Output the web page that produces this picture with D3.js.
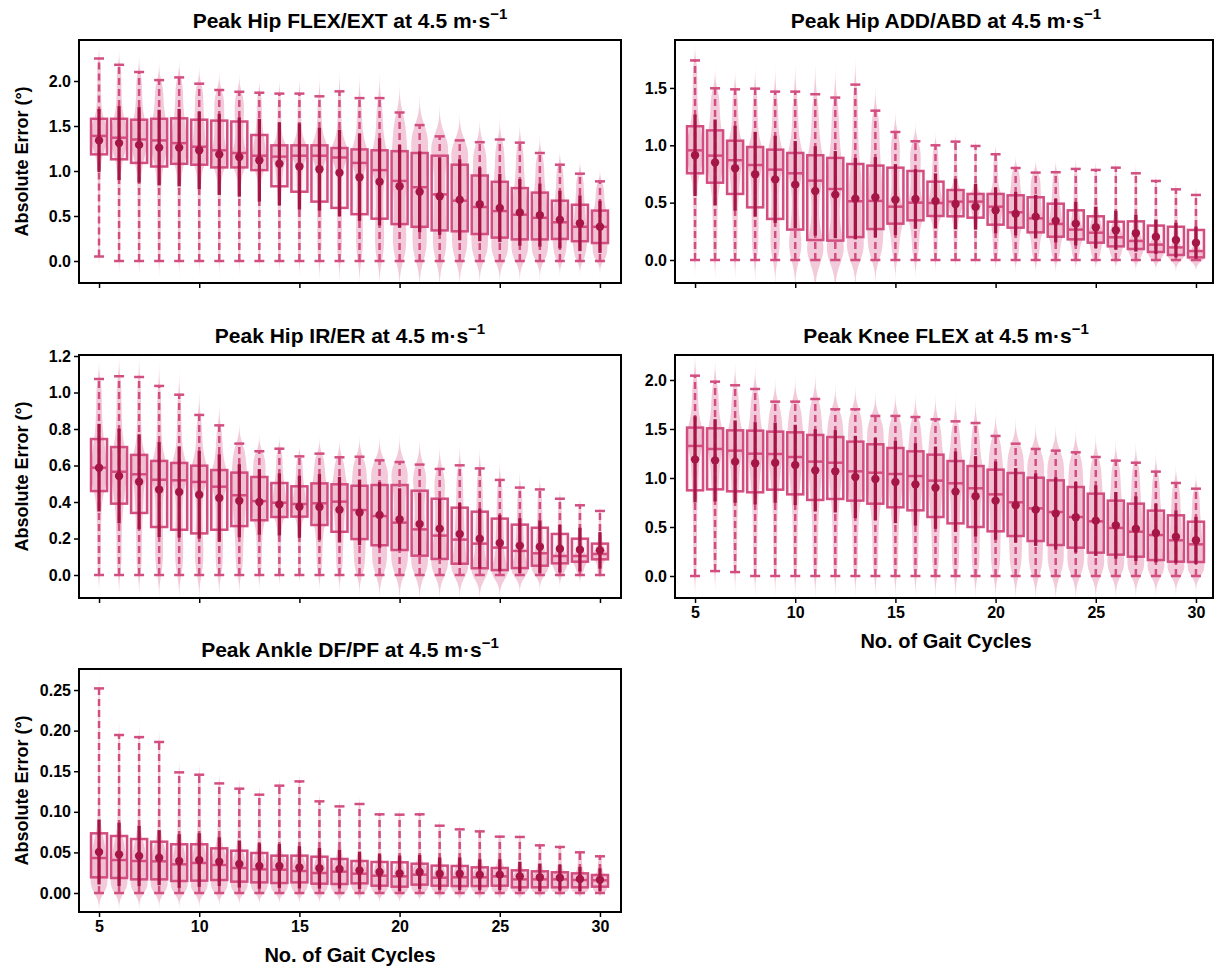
<!DOCTYPE html>
<html><head><meta charset="utf-8">
<script src="https://cdn.jsdelivr.net/npm/d3@7"></script>
<style>
body{margin:0;background:#fff}
svg text{font-family:"Liberation Sans",Arial,Helvetica,sans-serif;font-weight:bold;fill:#000}
</style>
</head><body>
<svg id="chart" width="1215" height="971"></svg>
<script>
// ---------------- data ----------------
const cycles = [5,6,7,8,9,10,11,12,13,14,15,16,17,18,19,20,21,22,23,24,25,26,27,28,29,30];
const xTicks = [5,10,15,20,25,30];

// Peak Hip FLEX/EXT
const flex_max  = [2.25,2.18,2.10,2.01,2.04,1.97,1.90,1.88,1.87,1.86,1.86,1.83,1.885,1.81,1.81,1.65,1.51,1.385,1.34,1.32,1.35,1.315,1.20,1.07,0.97,0.885];
const flex_q3   = [1.58,1.58,1.57,1.58,1.585,1.57,1.56,1.55,1.40,1.285,1.285,1.285,1.255,1.24,1.23,1.22,1.20,1.17,1.07,0.95,0.88,0.81,0.76,0.67,0.625,0.56];
const flex_med  = [1.39,1.37,1.35,1.34,1.31,1.27,1.23,1.20,1.17,1.16,1.17,1.17,1.15,1.09,1.01,0.89,0.82,0.74,0.67,0.60,0.555,0.515,0.48,0.43,0.38,0.38];
const flex_q1   = [1.185,1.13,1.09,1.05,1.08,1.07,1.04,1.04,1.01,0.83,0.77,0.66,0.59,0.52,0.47,0.41,0.38,0.34,0.33,0.30,0.26,0.24,0.24,0.245,0.22,0.20];
const flex_min  = [0.05,0,0,0,0,0,0,0,0,0,0,0,0,0,0,0,0,0,0,0,0,0,0,0,0,0];
const flex_mean = [1.34,1.31,1.29,1.26,1.26,1.23,1.185,1.155,1.12,1.08,1.05,1.02,0.98,0.93,0.88,0.83,0.77,0.72,0.68,0.63,0.59,0.54,0.51,0.46,0.42,0.38];
const flex_sd   = [0.35,0.41,0.42,0.42,0.43,0.43,0.45,0.44,0.46,0.46,0.48,0.46,0.48,0.485,0.485,0.46,0.45,0.43,0.45,0.41,0.38,0.37,0.35,0.32,0.31,0.29];

// Peak Hip ADD/ABD
const add_max  = [1.74,1.497,1.488,1.494,1.468,1.468,1.445,1.416,1.529,1.302,1.116,1.035,1.0,1.032,0.994,0.922,0.802,0.762,0.765,0.794,0.785,0.805,0.756,0.689,0.616,0.567];
const add_q3   = [1.166,1.13,1.04,0.985,0.962,0.933,0.913,0.89,0.837,0.823,0.805,0.776,0.683,0.61,0.576,0.576,0.564,0.547,0.491,0.433,0.381,0.334,0.337,0.3,0.29,0.262];
const add_med  = [0.956,0.91,0.87,0.828,0.788,0.756,0.692,0.619,0.512,0.515,0.465,0.5,0.497,0.509,0.509,0.465,0.416,0.363,0.314,0.265,0.238,0.198,0.166,0.134,0.11,0.078];
const add_q1   = [0.756,0.674,0.576,0.459,0.358,0.265,0.174,0.169,0.2,0.27,0.317,0.346,0.384,0.381,0.369,0.308,0.282,0.241,0.203,0.18,0.151,0.119,0.096,0.07,0.044,0.023];
const add_min  = [0,0,0,0,0,0,0,0,0,0,0,0,0,0,0,0,0,0,0,0,0,0,0,0,0,0];
const add_mean = [0.913,0.85,0.80,0.747,0.703,0.657,0.602,0.57,0.535,0.547,0.526,0.532,0.515,0.488,0.465,0.433,0.404,0.378,0.343,0.317,0.285,0.259,0.233,0.203,0.174,0.151];
const add_sd   = [0.355,0.375,0.37,0.37,0.38,0.38,0.39,0.38,0.355,0.35,0.31,0.26,0.24,0.22,0.2,0.2,0.19,0.19,0.19,0.19,0.18,0.17,0.16,0.15,0.15,0.14];

// Peak Hip IR/ER
const ir_max  = [1.074,1.089,1.085,1.036,0.988,0.877,0.82,0.72,0.678,0.692,0.65,0.665,0.645,0.648,0.628,0.619,0.605,0.581,0.601,0.584,0.521,0.479,0.469,0.418,0.382,0.351];
const ir_q3   = [0.745,0.701,0.658,0.625,0.614,0.599,0.575,0.561,0.537,0.504,0.486,0.502,0.497,0.489,0.493,0.493,0.462,0.418,0.369,0.347,0.309,0.276,0.259,0.225,0.199,0.172];
const ir_med  = [0.588,0.566,0.552,0.522,0.519,0.51,0.484,0.437,0.405,0.396,0.389,0.393,0.402,0.356,0.323,0.287,0.25,0.216,0.194,0.172,0.15,0.132,0.119,0.104,0.104,0.115];
const ir_q1   = [0.46,0.391,0.34,0.263,0.248,0.228,0.248,0.268,0.3,0.318,0.32,0.274,0.237,0.197,0.163,0.137,0.106,0.088,0.062,0.037,0.027,0.038,0.051,0.064,0.073,0.086];
const ir_min  = [0,0,0,0,0,0,0,0,0,0,0,0,0,0,0,0,0,0,0,0,0,0,0,0,0,0];
const ir_mean = [0.588,0.542,0.511,0.468,0.455,0.44,0.422,0.407,0.4,0.387,0.374,0.373,0.358,0.343,0.329,0.305,0.279,0.254,0.225,0.199,0.175,0.161,0.155,0.144,0.139,0.135];
const ir_sd   = [0.24,0.26,0.26,0.26,0.25,0.24,0.24,0.2,0.18,0.17,0.17,0.18,0.18,0.18,0.18,0.17,0.17,0.165,0.17,0.165,0.155,0.15,0.145,0.13,0.12,0.1];

// Peak Knee FLEX
const knee_max  = [2.044,1.983,1.946,1.908,1.779,1.779,1.806,1.701,1.701,1.633,1.633,1.622,1.599,1.578,1.561,1.429,1.35,1.296,1.279,1.262,1.214,1.177,1.156,1.065,0.949,0.891];
const knee_q3   = [1.514,1.507,1.486,1.483,1.473,1.466,1.439,1.418,1.371,1.344,1.306,1.272,1.238,1.173,1.122,1.085,1.051,1.003,0.976,0.908,0.84,0.769,0.738,0.667,0.619,0.554];
const knee_med  = [1.327,1.296,1.279,1.248,1.245,1.214,1.167,1.156,1.068,1.054,1.041,1.02,0.973,0.946,0.895,0.833,0.752,0.69,0.653,0.602,0.558,0.49,0.452,0.418,0.364,0.323];
const knee_q1   = [0.874,0.884,0.864,0.854,0.881,0.833,0.776,0.786,0.769,0.738,0.701,0.67,0.602,0.537,0.5,0.456,0.408,0.357,0.316,0.289,0.238,0.218,0.197,0.163,0.146,0.143];
const knee_min  = [0,0.05,0.04,0,0,0,0,0,0,0,0,0,0,0,0,0,0,0,0,0,0,0,0,0,0,0];
const knee_mean = [1.19,1.18,1.167,1.15,1.156,1.133,1.078,1.068,1.01,0.99,0.959,0.935,0.901,0.861,0.813,0.769,0.721,0.677,0.639,0.599,0.565,0.517,0.483,0.439,0.401,0.364];
const knee_sd   = [0.44,0.42,0.42,0.42,0.41,0.41,0.42,0.42,0.42,0.42,0.42,0.42,0.42,0.41,0.41,0.4,0.38,0.37,0.37,0.36,0.36,0.34,0.33,0.3,0.27,0.24];

// Peak Ankle DF/PF
const ank_max  = [0.252,0.1946,0.192,0.186,0.1486,0.1457,0.135,0.1285,0.1211,0.1322,0.1375,0.1129,0.1067,0.1096,0.0969,0.0965,0.0969,0.0829,0.0784,0.0759,0.0694,0.069,0.0587,0.0567,0.0501,0.0452];
const ank_q3   = [0.0735,0.0702,0.0665,0.0632,0.06,0.06,0.055,0.0521,0.0493,0.046,0.046,0.0447,0.0419,0.0394,0.0382,0.0378,0.0361,0.0337,0.0333,0.0316,0.0308,0.0279,0.0267,0.0255,0.0242,0.0222];
const ank_med  = [0.0431,0.0406,0.0394,0.039,0.0353,0.037,0.0345,0.0308,0.0291,0.0287,0.0271,0.0246,0.0263,0.0238,0.0213,0.0205,0.0226,0.0189,0.0193,0.0193,0.0205,0.0168,0.0168,0.0168,0.016,0.0156];
const ank_q1   = [0.0193,0.0185,0.0168,0.0168,0.0148,0.0152,0.016,0.014,0.0131,0.0123,0.0131,0.0115,0.0111,0.0119,0.009,0.0078,0.0103,0.009,0.0086,0.0086,0.009,0.007,0.007,0.007,0.007,0.0078];
const ank_min  = [0,0,0,0,0,0,0,0,0,0,0,0,0,0,0,0,0,0,0,0,0,0,0,0,0,0];
const ank_mean = [0.0505,0.0476,0.0456,0.0435,0.0394,0.0406,0.0386,0.0357,0.0333,0.0333,0.0316,0.0304,0.0296,0.0279,0.0259,0.0242,0.0259,0.0238,0.0238,0.0226,0.0226,0.0205,0.0193,0.0189,0.0172,0.0164];
const ank_sd   = [0.04,0.039,0.037,0.034,0.033,0.033,0.03,0.029,0.028,0.027,0.026,0.025,0.024,0.023,0.022,0.022,0.021,0.02,0.02,0.019,0.019,0.018,0.017,0.016,0.015,0.014];

// y tick labels per panel
const flex_ticks = [0,0.5,1.0,1.5,2.0];
const add_ticks  = [0,0.5,1.0,1.5];
const ir_ticks   = [0,0.2,0.4,0.6,0.8,1.0,1.2];
const knee_ticks = [0,0.5,1.0,1.5,2.0];
const ank_ticks  = [0,0.05,0.10,0.15,0.20,0.25];

// ---------------- layout / style ----------------
const PINK = "#d34e80", DARK = "#a51646";
const W = 542, H = 243, PAGE_RIGHT = 1213;
const panels = [
  {name:"Peak Hip FLEX/EXT", left:79,  top:40,  yDom:[-0.2444,2.4556], ticks:flex_ticks, fmt:".1f", xLab:false, yLab:true,
   s:{max:flex_max,q3:flex_q3,med:flex_med,q1:flex_q1,min:flex_min,mean:flex_mean,sd:flex_sd}},
  {name:"Peak Hip ADD/ABD",  left:675, top:40,  yDom:[-0.2005,1.918],  ticks:add_ticks,  fmt:".1f", xLab:false, yLab:false,
   s:{max:add_max,q3:add_q3,med:add_med,q1:add_q1,min:add_min,mean:add_mean,sd:add_sd}},
  {name:"Peak Hip IR/ER",    left:79,  top:355, yDom:[-0.126,1.2055],  ticks:ir_ticks,   fmt:".1f", xLab:false, yLab:true,
   s:{max:ir_max,q3:ir_q3,med:ir_med,q1:ir_q1,min:ir_min,mean:ir_mean,sd:ir_sd}},
  {name:"Peak Knee FLEX",    left:675, top:355, yDom:[-0.2245,2.255],  ticks:knee_ticks, fmt:".1f", xLab:true,  yLab:false,
   s:{max:knee_max,q3:knee_q3,med:knee_med,q1:knee_q1,min:knee_min,mean:knee_mean,sd:knee_sd}},
  {name:"Peak Ankle DF/PF",  left:79,  top:669, yDom:[-0.0234,0.2759], ticks:ank_ticks,  fmt:".2f", xLab:true,  yLab:true,
   s:{max:ank_max,q3:ank_q3,med:ank_med,q1:ank_q1,min:ank_min,mean:ank_mean,sd:ank_sd}}
];

// monotone cubic quantile function through the five-number summary
function quantileFn(v){
  const d=[]; for(let k=0;k<4;k++) d.push((v[k+1]-v[k])/0.25);
  const m=new Array(5);
  for(let k=1;k<4;k++) m[k]=(d[k-1]>0&&d[k]>0)?2/(1/d[k-1]+1/d[k]):0;
  m[0]=Math.max(0,(3*d[0]-m[1])/2); m[4]=Math.max(0,(3*d[3]-m[3])/2);
  return q=>{
    const k=Math.min(3,Math.floor(q/0.25)); const t=(q-k*0.25)/0.25, t2=t*t, t3=t2*t;
    return (2*t3-3*t2+1)*v[k]+(t3-2*t2+t)*0.25*m[k]+(-2*t3+3*t2)*v[k+1]+(t3-t2)*0.25*m[k+1];
  };
}
function violinProfile(mn,q1,med,q3,mx){
  const Q=quantileFn([mn,q1,med,q3,mx]);
  const N=300, samples=[];
  for(let j=0;j<N;j++) samples.push(Q((j+0.5)/N));
  const h=Math.max(0.15*(q3-q1),0.02*(mx-mn));
  const lo=mn-3*h, hi=mx+3*h, G=120, pts=[];
  for(let i=0;i<=G;i++){
    const yv=lo+(hi-lo)*i/G; let s=0;
    for(const sv of samples){const z=(yv-sv)/h; s+=Math.exp(-0.5*z*z);}
    pts.push({v:yv,d:s});
  }
  const md=d3.max(pts,p=>p.d);
  pts.forEach(p=>p.d/=md);
  return pts;
}

const svg=d3.select("#chart");

panels.forEach((p,pi)=>{
  const g=svg.append("g").attr("transform",`translate(${p.left},${p.top})`);
  const x=d3.scaleLinear().domain([4,31.05]).range([0,W]);
  const y=d3.scaleLinear().domain(p.yDom).range([H,0]);
  const FW=Math.min(W,PAGE_RIGHT-p.left); // visible frame width
  const cid="clip"+pi;
  g.append("clipPath").attr("id",cid).append("rect").attr("width",FW).attr("height",H);
  const plot=g.append("g").attr("clip-path",`url(#${cid})`);
  const rows=cycles.map((c,i)=>({c,max:p.s.max[i],q3:p.s.q3[i],med:p.s.med[i],q1:p.s.q1[i],min:p.s.min[i],mean:p.s.mean[i],sd:p.s.sd[i]}));
  const ux=x(1)-x(0);
  const halfW=0.42*ux, boxHalf=0.4*ux, capHalf=5;

  // violins
  rows.forEach(r=>{
    const prof=violinProfile(r.min,r.q1,r.med,r.q3,r.max);
    const area=d3.area().curve(d3.curveCatmullRom)
      .y(d=>y(d.v)).x0(d=>x(r.c)-d.d*halfW).x1(d=>x(r.c)+d.d*halfW);
    plot.append("path").attr("d",area(prof)).attr("fill",PINK).attr("fill-opacity",0.3).attr("stroke","none");
  });
  // whiskers (dashed)
  plot.selectAll(".wh").data(rows).join("line")
    .attr("x1",d=>x(d.c)).attr("x2",d=>x(d.c)).attr("y1",d=>y(d.min)).attr("y2",d=>y(d.max))
    .attr("stroke",PINK).attr("stroke-width",2.5).attr("stroke-dasharray","7,4");
  // caps
  ["min","max"].forEach(k=>{
    plot.selectAll(".cap"+k).data(rows).join("line")
      .attr("x1",d=>x(d.c)-capHalf).attr("x2",d=>x(d.c)+capHalf).attr("y1",d=>y(d[k])).attr("y2",d=>y(d[k]))
      .attr("stroke",PINK).attr("stroke-width",2.5);
  });
  // boxes
  plot.selectAll(".box").data(rows).join("rect")
    .attr("x",d=>x(d.c)-boxHalf).attr("width",2*boxHalf)
    .attr("y",d=>y(d.q3)).attr("height",d=>y(d.q1)-y(d.q3))
    .attr("fill",PINK).attr("fill-opacity",0.08).attr("stroke",PINK).attr("stroke-width",2.5);
  // medians
  plot.selectAll(".med").data(rows).join("line")
    .attr("x1",d=>x(d.c)-boxHalf).attr("x2",d=>x(d.c)+boxHalf).attr("y1",d=>y(d.med)).attr("y2",d=>y(d.med))
    .attr("stroke",PINK).attr("stroke-width",2.5);
  // mean ± SD
  plot.selectAll(".sdb").data(rows).join("line")
    .attr("x1",d=>x(d.c)).attr("x2",d=>x(d.c)).attr("y1",d=>y(d.mean-d.sd)).attr("y2",d=>y(d.mean+d.sd))
    .attr("stroke",DARK).attr("stroke-width",3.3);
  plot.selectAll(".mn").data(rows).join("circle")
    .attr("cx",d=>x(d.c)).attr("cy",d=>y(d.mean)).attr("r",4.2).attr("fill",DARK);

  // frame
  g.append("rect").attr("width",FW).attr("height",H).attr("fill","none").attr("stroke","#000").attr("stroke-width",2);

  // axes
  const ya=g.append("g").call(d3.axisLeft(y).tickValues(p.ticks).tickFormat(d3.format(p.fmt)).tickSize(5).tickPadding(3));
  const xa=g.append("g").attr("transform",`translate(0,${H})`)
    .call(d3.axisBottom(x).tickValues(xTicks).tickFormat(p.xLab?d3.format("d"):()=>"").tickSize(5).tickPadding(4));
  [ya,xa].forEach(a=>{
    a.select(".domain").remove();
    a.selectAll(".tick line").attr("stroke","#000").attr("stroke-width",1.5);
    a.selectAll(".tick text").style("font-size","16px");
  });

  // title
  const t=g.append("text").attr("x",W/2).attr("y",-12).attr("text-anchor","middle").style("font-size","21px");
  t.append("tspan").text(p.name+" at 4.5 m·s");
  t.append("tspan").attr("dy",-9).style("font-size","15px").text("−1");

  if(p.yLab){
    g.append("text").attr("transform",`translate(${28-p.left},${H/2}) rotate(-90)`)
      .attr("text-anchor","middle").style("font-size","18px").text("Absolute Error (°)");
  }
  if(p.xLab){
    g.append("text").attr("x",W/2).attr("y",H+50).attr("text-anchor","middle").style("font-size","20px").text("No. of Gait Cycles");
  }
});
</script>
</body></html>
